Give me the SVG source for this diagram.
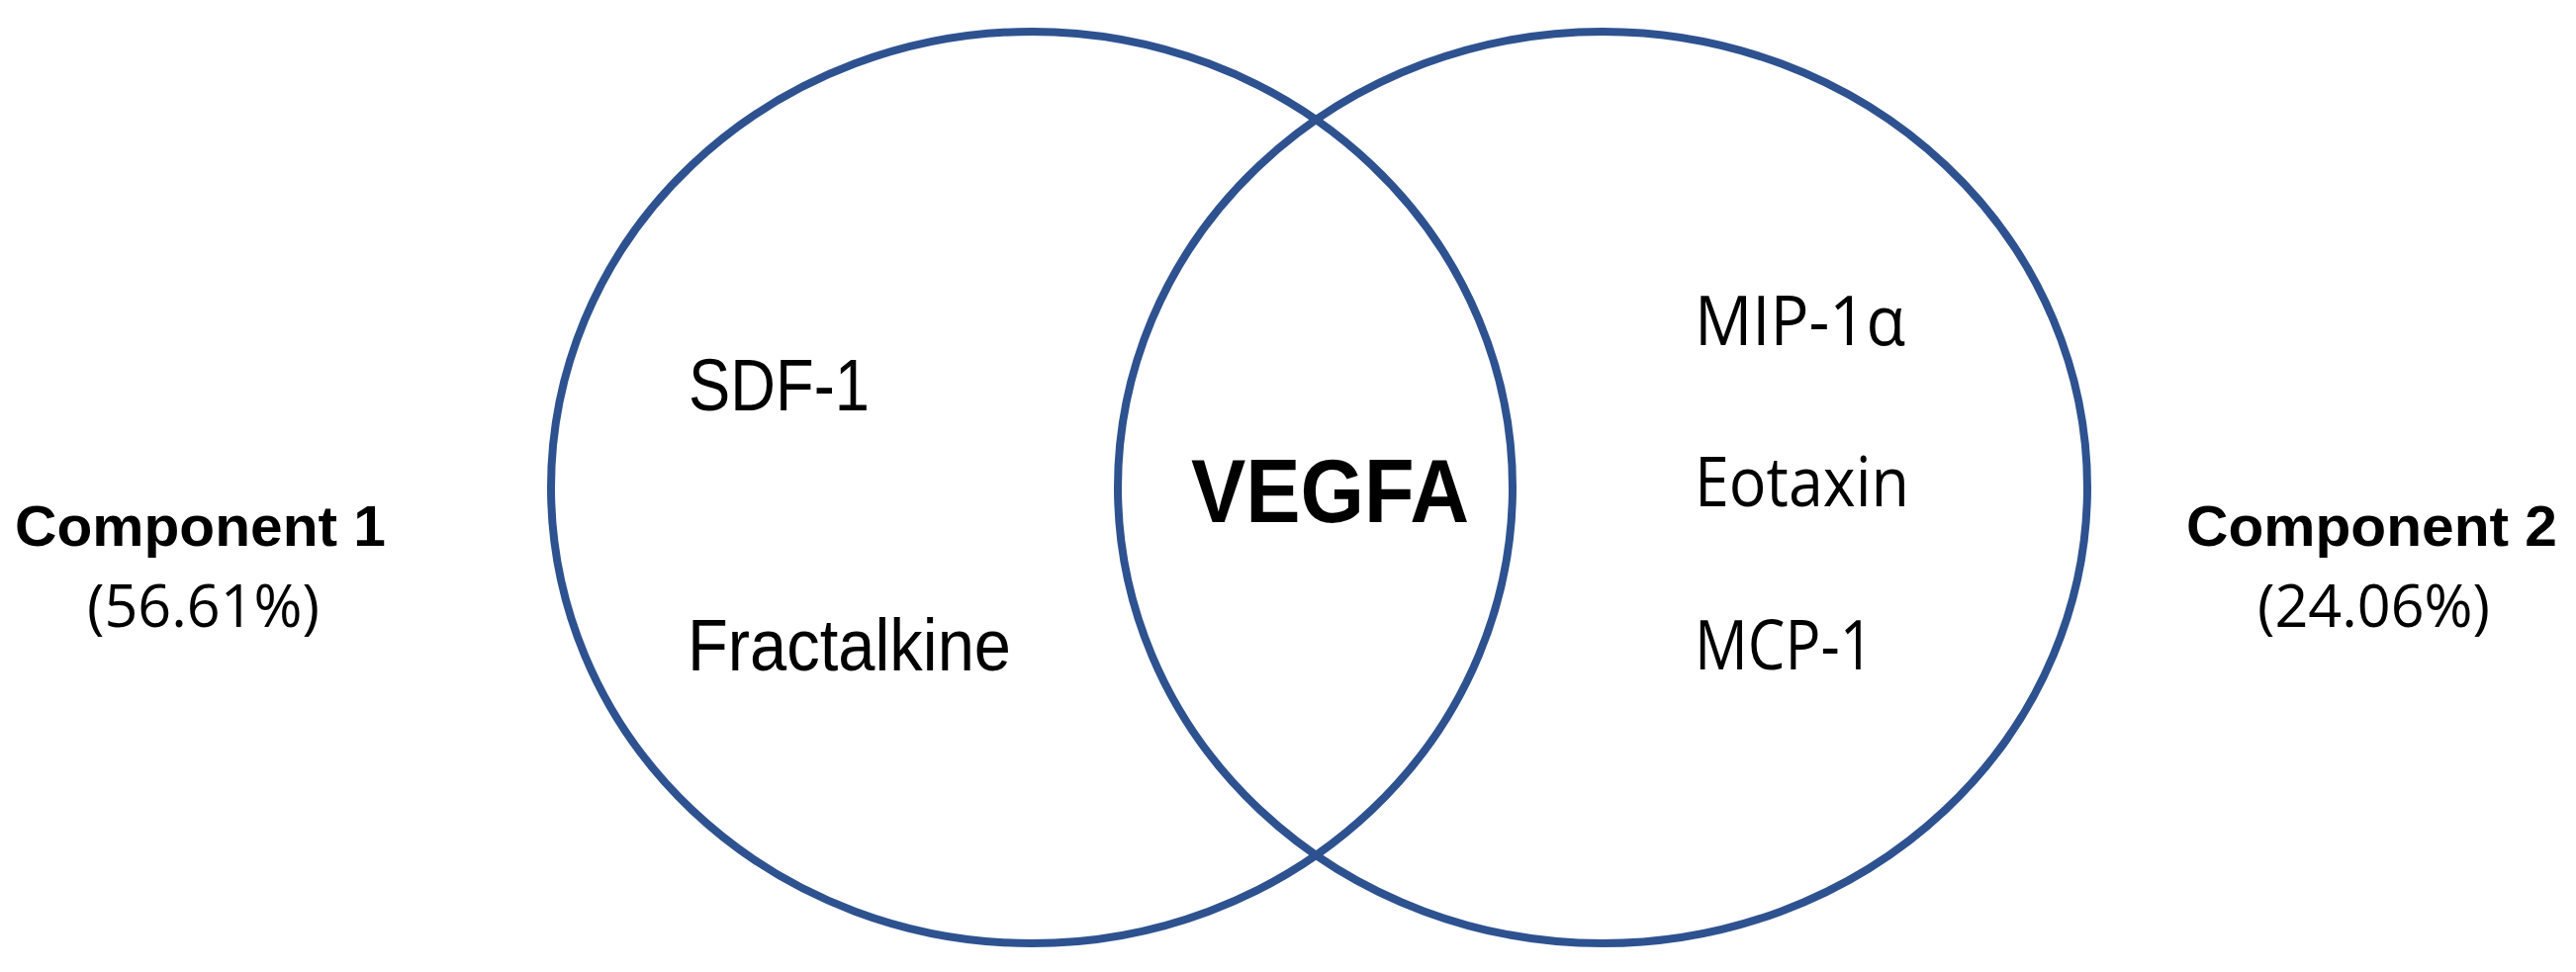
<svg xmlns="http://www.w3.org/2000/svg" width="2604" height="983" viewBox="0 0 2604 983">
<style>
.c{fill:none;stroke:#2e5290;stroke-width:8}
.a{font-family:"Liberation Sans",Arial,sans-serif;font-size:74px;fill:#000}
.r{font-family:"Open Sans","Liberation Sans",sans-serif;font-size:70px;fill:#000}
.b{font-family:"Liberation Sans",Arial,sans-serif;font-weight:bold;font-size:58px;fill:#000}
.p{font-family:"Open Sans","Liberation Sans",sans-serif;font-size:60px;fill:#000}
</style>
<rect width="2604" height="983" fill="#fff"/>
<g id="set1"><ellipse class="c" cx="1043" cy="493" rx="486" ry="461"/>
<text class="a" x="696" y="415" textLength="183" lengthAdjust="spacingAndGlyphs">SDF-1</text>
<text class="a" x="695" y="678" textLength="327" lengthAdjust="spacingAndGlyphs">Fractalkine</text></g>
<g id="set2"><ellipse class="c" cx="1620" cy="493" rx="490" ry="461"/>
<text class="r" x="1713" y="349" textLength="213" lengthAdjust="spacingAndGlyphs">MIP-1α</text>
<text class="r" x="1713" y="512" textLength="217" lengthAdjust="spacingAndGlyphs">Eotaxin</text>
<text class="r" x="1713" y="677" textLength="181" lengthAdjust="spacingAndGlyphs">MCP-1</text></g>
<g id="overlap"><text x="1204" y="528" font-family="Liberation Sans,Arial,sans-serif" font-weight="bold" font-size="90" textLength="281" lengthAdjust="spacingAndGlyphs">VEGFA</text></g>
<g id="label1"><text class="b" x="15" y="552" textLength="375" lengthAdjust="spacingAndGlyphs">Component 1</text>
<text class="p" x="88" y="634" textLength="235" lengthAdjust="spacingAndGlyphs">(56.61%)</text></g>
<g id="label2"><text class="b" x="2210" y="552" textLength="375" lengthAdjust="spacingAndGlyphs">Component 2</text>
<text class="p" x="2282" y="634" textLength="235" lengthAdjust="spacingAndGlyphs">(24.06%)</text></g>
<g id="connectors"/>
</svg>
